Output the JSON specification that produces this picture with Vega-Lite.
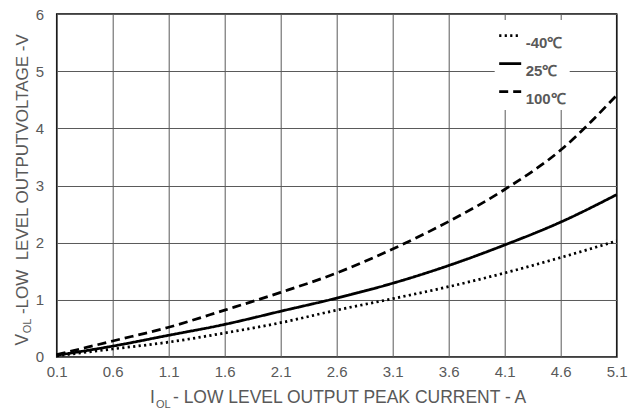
{
  "$schema": "https://vega.github.io/schema/vega-lite/v6.json",
  "width": 560,
  "height": 343,
  "autosize": {"type": "none"},
  "padding": {"left": 56.7, "top": 14, "right": 13, "bottom": 59},
  "background": "white",
  "config": {
    "view": {"stroke": "black", "strokeWidth": 1.5},
    "font": "Liberation Sans",
    "axis": {
      "domain": false,
      "ticks": false,
      "grid": true,
      "gridColor": "#595959",
      "gridWidth": 1,
      "labelFlush": false,
      "labelFont": "Liberation Sans",
      "labelFontSize": 15,
      "labelColor": "#595959",
      "title": null
    }
  },
  "datasets": {
    "curves": [
      {"I": 0.1, "V": 0.02, "T": "-40℃"},
      {"I": 0.6, "V": 0.14, "T": "-40℃"},
      {"I": 1.1, "V": 0.26, "T": "-40℃"},
      {"I": 1.6, "V": 0.42, "T": "-40℃"},
      {"I": 2.1, "V": 0.6, "T": "-40℃"},
      {"I": 2.6, "V": 0.82, "T": "-40℃"},
      {"I": 3.1, "V": 1.02, "T": "-40℃"},
      {"I": 3.6, "V": 1.23, "T": "-40℃"},
      {"I": 4.1, "V": 1.47, "T": "-40℃"},
      {"I": 4.6, "V": 1.74, "T": "-40℃"},
      {"I": 5.1, "V": 2.03, "T": "-40℃"},
      {"I": 0.1, "V": 0.03, "T": "25℃"},
      {"I": 0.6, "V": 0.19, "T": "25℃"},
      {"I": 1.1, "V": 0.38, "T": "25℃"},
      {"I": 1.6, "V": 0.57, "T": "25℃"},
      {"I": 2.1, "V": 0.8, "T": "25℃"},
      {"I": 2.6, "V": 1.03, "T": "25℃"},
      {"I": 3.1, "V": 1.29, "T": "25℃"},
      {"I": 3.6, "V": 1.6, "T": "25℃"},
      {"I": 4.1, "V": 1.96, "T": "25℃"},
      {"I": 4.6, "V": 2.36, "T": "25℃"},
      {"I": 5.1, "V": 2.84, "T": "25℃"},
      {"I": 0.1, "V": 0.04, "T": "100℃"},
      {"I": 0.6, "V": 0.28, "T": "100℃"},
      {"I": 1.1, "V": 0.52, "T": "100℃"},
      {"I": 1.6, "V": 0.82, "T": "100℃"},
      {"I": 2.1, "V": 1.13, "T": "100℃"},
      {"I": 2.6, "V": 1.47, "T": "100℃"},
      {"I": 3.1, "V": 1.89, "T": "100℃"},
      {"I": 3.6, "V": 2.37, "T": "100℃"},
      {"I": 4.1, "V": 2.93, "T": "100℃"},
      {"I": 4.6, "V": 3.62, "T": "100℃"},
      {"I": 5.1, "V": 4.58, "T": "100℃"}
    ],
    "one": [{}]
  },
  "layer": [
    {
      "data": {"name": "curves"},
      "mark": {"type": "line", "interpolate": "monotone", "strokeWidth": 2.75, "color": "black"},
      "encoding": {
        "x": {
          "field": "I", "type": "quantitative",
          "scale": {"domain": [0.1, 5.1], "nice": false, "zero": false},
          "axis": {"values": [0.1, 0.6, 1.1, 1.6, 2.1, 2.6, 3.1, 3.6, 4.1, 4.6, 5.1], "format": ".1f", "labelPadding": 8}
        },
        "y": {
          "field": "V", "type": "quantitative",
          "scale": {"domain": [0, 6], "nice": false},
          "axis": {"values": [0, 1, 2, 3, 4, 5, 6], "format": "d", "labelPadding": 13}
        },
        "strokeDash": {
          "field": "T", "type": "nominal",
          "scale": {"domain": ["-40℃", "25℃", "100℃"], "range": [[2.2, 3.3], [1, 0], [9, 5]]},
          "legend": {
            "title": null,
            "orient": "none",
            "legendX": 438,
            "legendY": 6,
            "fillColor": "white",
            "padding": 3,
            "symbolType": "stroke",
            "symbolSize": 484,
            "symbolStrokeWidth": 2.75,
            "symbolStrokeColor": "black",
            "rowPadding": 0,
            "labelOffset": 3,
            "labelBaseline": "top",
            "labelFont": "Liberation Sans",
            "labelFontSize": 15,
            "labelFontWeight": "bold",
            "labelColor": "#595959"
          }
        }
      }
    },
    {
      "data": {"name": "one"},
      "mark": {"type": "text", "text": "I", "align": "left", "baseline": "middle", "fontSize": 17.5, "color": "#595959"},
      "encoding": {"x": {"datum": 0.933}, "y": {"datum": -0.722}}
    },
    {
      "data": {"name": "one"},
      "mark": {"type": "text", "text": "OL", "align": "left", "baseline": "middle", "fontSize": 11, "color": "#595959"},
      "encoding": {"x": {"datum": 0.987}, "y": {"datum": -0.845}}
    },
    {
      "data": {"name": "one"},
      "mark": {"type": "text", "text": "- LOW LEVEL OUTPUT PEAK CURRENT - A", "align": "left", "baseline": "middle", "fontSize": 17.5, "color": "#595959"},
      "encoding": {"x": {"datum": 1.138}, "y": {"datum": -0.722}}
    },
    {
      "data": {"name": "one"},
      "mark": {"type": "text", "text": "V", "angle": 270, "align": "left", "baseline": "middle", "fontSize": 17.5, "color": "#595959"},
      "encoding": {"x": {"datum": -0.2}, "y": {"datum": 0.2}}
    },
    {
      "data": {"name": "one"},
      "mark": {"type": "text", "text": "OL", "angle": 270, "align": "left", "baseline": "middle", "fontSize": 11, "color": "#595959"},
      "encoding": {"x": {"datum": -0.156}, "y": {"datum": 0.415}}
    },
    {
      "data": {"name": "one"},
      "mark": {"type": "text", "text": "-LOW\u00a0 LEVEL OUTPUTVOLTAGE -V", "angle": 270, "align": "left", "baseline": "middle", "fontSize": 17, "color": "#595959"},
      "encoding": {"x": {"datum": -0.2}, "y": {"datum": 0.75}}
    }
  ]
}
